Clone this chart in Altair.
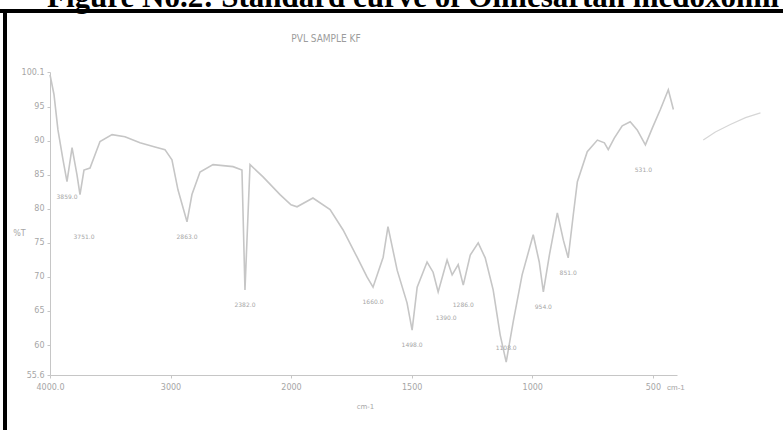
import altair as alt
import pandas as pd

# ---- text -------------------------------------------------------------
caption = "Figure No.2: Standard curve of Olmesartan medoxomil"
sample_name = "PVL SAMPLE KF"

# ---- IR spectrum: wavenumber (cm-1) and %T ------------------------------
wavenumber = [4000, 3967, 3934, 3892, 3859, 3817, 3776, 3751, 3718, 3668,
              3585, 3485, 3378, 3253, 3129, 3046, 2988, 2938, 2863, 2822,
              2755, 2647, 2481, 2407, 2382, 2340, 2232, 2091, 2000, 1975,
              1909, 1838, 1784, 1726, 1685, 1660, 1618, 1598, 1560, 1519,
              1498, 1477, 1436, 1411, 1390, 1353, 1332, 1307, 1286, 1257,
              1224, 1195, 1162, 1133, 1108, 1079, 1042, 996, 971, 954,
              929, 896, 871, 851, 830, 813, 772, 730, 701, 685,
              660, 627, 594, 565, 531, 502, 469, 436, 415]
transmittance = [99.7, 96.8, 91.6, 87.2, 84.0, 89.0, 85.0, 82.1, 85.7, 86.0,
                 89.9, 90.9, 90.6, 89.7, 89.1, 88.7, 87.2, 82.8, 78.1, 82.1,
                 85.4, 86.5, 86.2, 85.7, 68.1, 86.5, 84.7, 82.1, 80.6, 80.3,
                 81.6, 79.9, 76.9, 72.9, 70.0, 68.5, 72.9, 77.4, 71.0, 66.2,
                 62.2, 68.5, 72.2, 70.7, 67.8, 72.5, 70.3, 71.8, 68.8, 73.2,
                 75.0, 72.8, 68.1, 61.5, 57.5, 63.4, 70.3, 76.2, 72.2, 67.8,
                 73.2, 79.4, 75.4, 72.8, 79.1, 84.0, 88.4, 90.1, 89.7, 88.7,
                 90.4, 92.2, 92.8, 91.6, 89.4, 91.9, 94.6, 97.5, 94.6]

# short overlay trace printed past the axis end
trace2_wavenumber = [291, 241, 179, 116, 54]
trace2_transmittance = [90.1, 91.3, 92.4, 93.4, 94.1]

# picked absorption bands (wavenumbers)
peak_wavenumber = [3859, 3751, 2863, 2382, 1660, 1498, 1390, 1286, 1108, 954, 851, 531]

# axis ticks
x_ticks = [4000, 3000, 2000, 1500, 1000, 500]
y_ticks = [55.6, 60, 65, 70, 75, 80, 85, 90, 95, 100.1]
y_domain = [55.6, 100.1]

# ---- tables -------------------------------------------------------------
spectrum = pd.DataFrame({"wn": wavenumber, "T": transmittance})
trace2 = pd.DataFrame({"wn": trace2_wavenumber, "T": trace2_transmittance})
lookup = dict(zip(wavenumber, transmittance))
peaks = pd.DataFrame({"wn": peak_wavenumber,
                      "T": [lookup[w] for w in peak_wavenumber]})

# label offsets (pixels) per band
label_offset = {3751: (4, 42), 1390: (8, 26), 1286: (0, 20), 531: (-2, 25),
                1108: (0, -14)}

W, H = 627, 303
GREY_LINE = "#c6c6c6"
GREY_TEXT = "#a6a6a6"

x_scale = alt.Scale(domain=[4000, 2000, 400], range=[0, 241, W], nice=False, zero=False)
y_scale = alt.Scale(domain=y_domain, nice=False, zero=False)

x_axis = alt.Axis(values=x_ticks, format="d",
                  labelExpr="datum.value == 4000 ? '4000.0' : datum.label",
                  title="cm-1", titleX=315, titleY=27,
                  titleFontSize=7, titleFontWeight="normal",
                  titleColor=GREY_TEXT, labelFontSize=8,
                  labelColor=GREY_TEXT, labelPadding=5, labelOverlap=False,
                  domainColor=GREY_LINE, tickColor=GREY_LINE,
                  tickSize=3, grid=False, labelFlush=False)
y_axis = alt.Axis(values=y_ticks, format=".1~f", title="%T",
                  titleAngle=0, titleX=-31, titleY=161,
                  titleAlign="center", titleBaseline="middle",
                  titleFontSize=8, titleFontWeight="normal",
                  titleColor=GREY_TEXT, labelFontSize=8,
                  labelColor=GREY_TEXT, labelPadding=3,
                  labelFlush=False, labelOverlap=False, labelSeparation=0,
                  domainColor=GREY_LINE, tickColor=GREY_LINE,
                  tickSize=3, grid=False)

# every layer shares the same axis definition
x_enc = alt.X("wn:Q", scale=x_scale, axis=x_axis)
y_enc = alt.Y("T:Q", scale=y_scale, axis=y_axis)

line = alt.Chart(spectrum).mark_line(color=GREY_LINE, strokeWidth=1.6,
                                     interpolate="linear").encode(
    x=x_enc, y=y_enc, order="wn:Q")

line2 = alt.Chart(trace2).mark_line(color="#d6d6d6", strokeWidth=1.2).encode(
    x=x_enc, y=y_enc, order="wn:Q")

label_layers = []
default_ids = [w for w in peak_wavenumber if w not in label_offset]
groups = [(default_ids, (0, 15))] + [([w], off) for w, off in label_offset.items()]
for ids, (dx, dy) in groups:
    sub = peaks[peaks["wn"].isin(ids)]
    label_layers.append(
        alt.Chart(sub).mark_text(fontSize=6, color=GREY_TEXT, dx=dx, dy=dy,
                                 font="DejaVu Sans").encode(
            x=x_enc, y=y_enc,
            text=alt.Text("wn:Q", format=".1f")))

# unit after the last tick label
unit = alt.Chart(pd.DataFrame({"t": ["cm-1"]})).mark_text(
    fontSize=8, color=GREY_TEXT, align="left", baseline="middle").encode(
    x=alt.value(617), y=alt.value(316), text="t:N")

sample = alt.Chart(pd.DataFrame({"t": [sample_name]})).mark_text(
    fontSize=10, color="#9c9c9c", align="center", baseline="middle",
    font="DejaVu Sans Condensed").encode(
    x=alt.value(276), y=alt.value(-33), text="t:N")

heading = alt.Chart(pd.DataFrame({"t": [caption]})).mark_text(
    fontSize=31, fontWeight="bold", font="Liberation Serif", color="black",
    align="left", baseline="alphabetic").encode(
    x=alt.value(-3), y=alt.value(-65), text="t:N")

# page frame: top and left edges
frame_top = alt.Chart(pd.DataFrame({"a": [0]})).mark_rule(
    color="black", strokeWidth=4).encode(
    x=alt.value(-50), x2=alt.value(733), y=alt.value(-61))
frame_left = alt.Chart(pd.DataFrame({"a": [0]})).mark_rule(
    color="black", strokeWidth=4).encode(
    x=alt.value(-45), y=alt.value(-63), y2=alt.value(358))

chart = alt.layer(
    line, line2, *label_layers, unit, sample, heading, frame_top, frame_left
).properties(
    width=W, height=H,
    padding={"left": 50, "top": 72, "right": 106, "bottom": 55},
    autosize="none",
    background="white",
).configure_view(stroke=None).configure_axis(
    labelFont="DejaVu Sans", titleFont="DejaVu Sans", labelOverlap=False
)

chart.save("out.html", embed_options={"renderer": "svg", "actions": False})
